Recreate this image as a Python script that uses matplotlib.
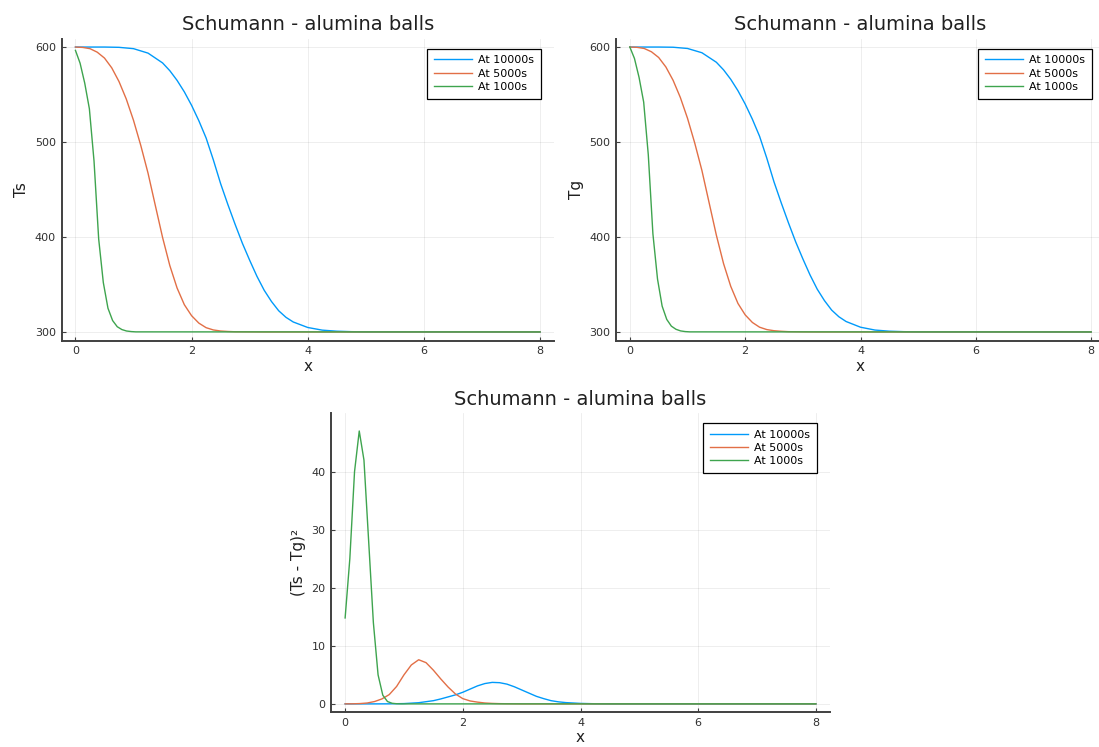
import numpy as np
import matplotlib
matplotlib.use("Agg")
import matplotlib.pyplot as plt

# series colours (Plots.jl default palette)
c_blue = "#009AFA"
c_red = "#E26F46"
c_green = "#3EA44E"

labels = ["At 10000s", "At 5000s", "At 1000s"]

# ---- At 10000s ----
x_10000 = [0, 0.25, 0.5, 0.75, 1.0, 1.25, 1.5, 1.625, 1.75, 1.875, 2.0, 2.125, 2.25, 2.375,
           2.5, 2.625, 2.75, 2.875, 3.0, 3.125, 3.25, 3.375, 3.5, 3.625, 3.75, 4.0, 4.25,
           4.5, 4.75, 5.0, 8.0]
Tg_10000 = [600, 600, 600, 599.8, 598.5, 594, 584, 576, 566, 554, 540, 524, 506, 483,
            458, 436, 415, 395, 377, 360, 345, 333, 323, 316, 311, 305, 302,
            300.8, 300.3, 300.1, 300]
Ts_10000 = [600, 600, 600, 599.7, 598.3, 593.6, 583.3, 575.1, 564.9, 552.8, 538.6, 522.4, 504.2, 481.1,
            456.1, 434.1, 413.2, 393.3, 375.5, 358.6, 343.9, 332.1, 322.3, 315.4, 310.5, 304.7, 301.9,
            300.8, 300.3, 300.1, 300]
d2_10000 = [0, 0, 0, 0.01, 0.05, 0.2, 0.55, 0.85, 1.2, 1.55, 2.0, 2.55, 3.1, 3.5,
            3.7, 3.65, 3.4, 2.95, 2.4, 1.85, 1.3, 0.9, 0.55, 0.35, 0.22, 0.08, 0.02,
            0, 0, 0, 0]

# ---- At 5000s ----
x_5000 = [0, 0.125, 0.25, 0.375, 0.5, 0.625, 0.75, 0.875, 1.0, 1.125, 1.25, 1.375,
          1.5, 1.625, 1.75, 1.875, 2.0, 2.125, 2.25, 2.375, 2.5, 2.625, 2.75, 3.0, 3.25, 8.0]
Tg_5000 = [600, 599.7, 598.5, 595, 589, 579, 565, 547, 525, 499, 470, 436,
           402, 372, 348, 330, 318, 310, 305, 302.5, 301.3, 300.7, 300.3, 300.1, 300, 300]
Ts_5000 = [600, 599.6, 598.3, 594.6, 588.4, 578.1, 563.7, 545.3, 522.8, 496.4, 467.2, 433.3,
           399.6, 369.9, 346.3, 328.7, 317.1, 309.3, 304.5, 302.1, 301.0, 300.5, 300.2, 300.1, 300, 300]
d2_5000 = [0, 0.01, 0.05, 0.15, 0.4, 0.85, 1.6, 3.0, 5.0, 6.7, 7.6, 7.1,
           5.8, 4.3, 2.9, 1.7, 0.9, 0.5, 0.3, 0.15, 0.08, 0.04, 0.02, 0, 0, 0]

# ---- At 1000s ----
x_1000 = [0, 0.08, 0.16, 0.24, 0.32, 0.40, 0.48, 0.56, 0.64, 0.72, 0.80, 0.88, 0.96, 1.04, 8.0]
Tg_1000 = [600, 588, 568, 542, 486.5, 403.3, 355.7, 327.2, 313.2, 306.1, 302.8, 301.1,
           300.4, 300.1, 300]
Ts_1000 = [596.5, 583, 562, 535, 480, 398, 352, 325, 312, 305.5, 302.5, 301,
           300.4, 300.1, 300]
d2_1000 = [14.8, 25, 40, 47, 42, 28, 14, 5, 1.5, 0.4, 0.1, 0.02, 0, 0, 0]

W, H = 1099, 747


def rect(l, t, r, b):
    return [l / W, 1 - b / H, (r - l) / W, (b - t) / H]


def style(ax, ylabel):
    for s in ["top", "right"]:
        ax.spines[s].set_visible(False)
    for s in ["left", "bottom"]:
        ax.spines[s].set_color("#404040")
        ax.spines[s].set_linewidth(1.4)
    ax.grid(True, color="black", alpha=0.08, linewidth=0.6)
    ax.tick_params(direction="in", length=3, width=0.8, color="#404040",
                   labelsize=8, labelcolor="#303030", pad=4)
    ax.set_xlim(-0.24, 8.24)
    ax.set_xticks([0, 2, 4, 6, 8])
    ax.set_xlabel("x", fontsize=11, color="#202020", labelpad=2)
    ax.set_ylabel(ylabel, fontsize=11, color="#202020")
    ax.set_title("Schumann - alumina balls", fontsize=14, color="#202020", pad=6)
    leg = ax.legend(loc="upper right", fontsize=8, fancybox=False, framealpha=1,
                    edgecolor="black", handlelength=3.4, borderpad=0.6,
                    labelspacing=0.3, handletextpad=0.6,
                    bbox_to_anchor=(0.985, 0.985))
    leg.get_frame().set_linewidth(0.9)


fig = plt.figure(figsize=(W / 100, H / 100), dpi=100)

ax1 = fig.add_axes(rect(61.5, 38.5, 554, 340.5))
ax1.plot(x_10000, Ts_10000, color=c_blue, lw=1.0, label=labels[0])
ax1.plot(x_5000, Ts_5000, color=c_red, lw=1.0, label=labels[1])
ax1.plot(x_1000, Ts_1000, color=c_green, lw=1.0, label=labels[2])
ax1.set_ylim(291, 609)
ax1.set_yticks([300, 400, 500, 600])
style(ax1, "Ts")

ax2 = fig.add_axes(rect(616, 38.5, 1105, 340.5))
ax2.plot(x_10000, Tg_10000, color=c_blue, lw=1.0, label=labels[0])
ax2.plot(x_5000, Tg_5000, color=c_red, lw=1.0, label=labels[1])
ax2.plot(x_1000, Tg_1000, color=c_green, lw=1.0, label=labels[2])
ax2.set_ylim(291, 609)
ax2.set_yticks([300, 400, 500, 600])
style(ax2, "Tg")

ax3 = fig.add_axes(rect(331, 413, 830, 712))
ax3.plot(x_10000, d2_10000, color=c_blue, lw=1.0, label=labels[0])
ax3.plot(x_5000, d2_5000, color=c_red, lw=1.0, label=labels[1])
ax3.plot(x_1000, d2_1000, color=c_green, lw=1.0, label=labels[2])
ax3.set_ylim(-1.4, 50.1)
ax3.set_yticks([0, 10, 20, 30, 40])
style(ax3, "(Ts - Tg)²")

fig.savefig("out.png", dpi=100)
plt.close()
